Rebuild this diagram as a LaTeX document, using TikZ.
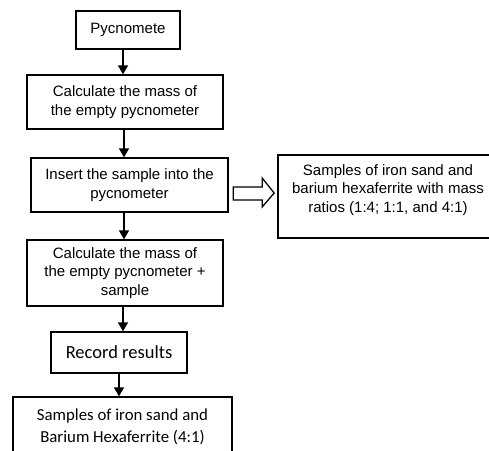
\documentclass[tikz,border=0pt]{standalone}
\usepackage{fontspec}
\setmainfont{Liberation Sans}
\newfontfamily\calfont{Carlito}
\usetikzlibrary{arrows.meta}
\begin{document}
\begin{tikzpicture}[x=1pt,y=-1pt,
  box/.style={draw,line width=1.3pt,inner sep=0pt,align=center},
  arial/.style={font=\fontsize{15}{18.3}\selectfont},
  arr/.style={line width=1.3pt,-{Triangle[length=9pt,width=10pt]}},
  barrow/.style={draw,line width=1.3pt,fill=white,line join=miter}]
\useasboundingbox (0,0) rectangle (489,450);
\node[box,arial,minimum width=104pt,minimum height=38pt] (b1) at (128,30) {Pycnomete};
\node[box,arial,minimum width=196pt,minimum height=54pt] (b2) at (125,102) {Calculate the mass of\\the empty pycnometer};
\node[box,arial,minimum width=197pt,minimum height=54pt] (b3) at (129.5,185) {Insert the sample into the\\pycnometer};
\node[box,arial,minimum width=196pt,minimum height=66pt] (b4) at (125,273) {Calculate the mass of\\the empty pycnometer +\\sample};
\node[box,font=\calfont\fontsize{18.5}{22}\selectfont,minimum width=136pt,minimum height=41pt] (b5) at (119,352.5) {Record results};
\node[box,font=\calfont\fontsize{16.8}{22}\selectfont,minimum width=219pt,minimum height=60pt] (b6) at (122.5,427) {Samples of iron sand and\\Barium Hexaferrite (4:1)};
\node[box,minimum width=220pt,minimum height=83pt] (r) at (388,196.5) {};
\node[arial,align=center,inner sep=0pt] (rt) at (388,190) {Samples of iron sand and\\barium hexaferrite with mass\\ratios (1:4; 1:1, and 4:1)};
% connectors
\draw[arr] ([xshift=-5pt]b1.south) -- ([xshift=-5pt]b1.south |- b2.north);
\draw[arr] ([xshift=-1pt]b2.south) -- ([xshift=-1pt]b2.south |- b3.north);
\draw[arr] ([xshift=-5.5pt]b3.south) -- ([xshift=-5.5pt]b3.south |- b4.north);
\draw[arr] ([xshift=-2pt]b4.south) -- ([xshift=-2pt]b4.south |- b5.north);
\draw[arr] (b5.south) -- (b5.south |- b6.north);
% block arrow
\draw[barrow] ([xshift=4.5pt,yshift=-2pt]b3.east) -- ++(29,0) -- ++(0,-9) -- ++(12,15) -- ++(-12,14) -- ++(0,-7) -- ++(-29,0) -- cycle;
\end{tikzpicture}
\end{document}
